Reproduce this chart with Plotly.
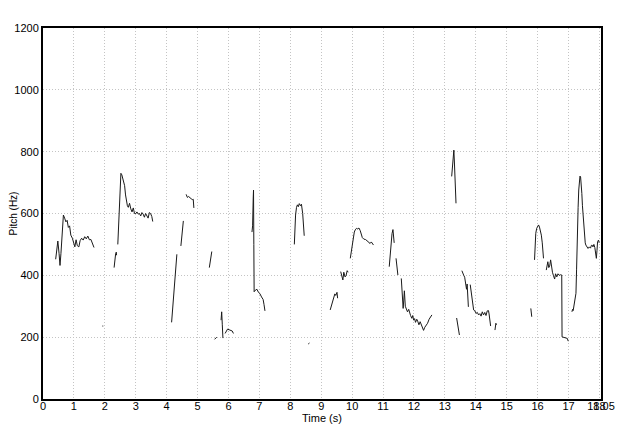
import plotly.graph_objects as go

# Pitch contour segments (time in s, pitch in Hz); None marks unvoiced gaps
time_s = [
    0.41, 0.45, 0.48, 0.52, 0.55, 0.58, 0.62, 0.66, 0.70, 0.74, 0.78, 0.82, 0.86, 0.90, 0.95, 0.99,
    1.03, 1.07, 1.11, 1.16, 1.20, 1.25, 1.30, 1.35, 1.40, 1.45, 1.50, 1.55, 1.60, 1.65, None,
    1.92, 1.95, None,
    2.30, 2.32, 2.35, 2.37, 2.38, None,
    2.42, 2.45, 2.48, 2.50, 2.52, 2.55, 2.58, 2.61, 2.64, 2.67, 2.70, 2.73, 2.76, 2.80, 2.84, 2.88,
    2.92, 2.96, 3.00, 3.04, 3.08, 3.12, 3.16, 3.20, 3.24, 3.28, 3.32, 3.36, 3.40, 3.44, 3.48, 3.52, 3.55, None,
    4.16, 4.20, 4.23, 4.27, 4.30, 4.33, None,
    4.46, 4.50, 4.54, None,
    4.63, 4.67, 4.71, 4.75, 4.79, 4.83, 4.86, 4.88, None,
    5.38, 5.41, 5.44, 5.46, None,
    5.55, 5.58, 5.62, None,
    5.76, 5.78, 5.80, 5.82, None,
    5.89, 5.93, 5.97, 6.02, 6.07, 6.12, 6.16, None,
    6.76, 6.78, 6.80, 6.81, 6.82, 6.83, 6.87, 6.92, 6.97, 7.02, 7.07, 7.12, 7.15, 7.18, None,
    8.13, 8.15, 8.17, 8.20, 8.23, 8.26, 8.29, 8.33, 8.36, 8.40, 8.43, 8.45, None,
    8.58, 8.62, None,
    9.29, 9.33, 9.36, 9.40, 9.44, 9.47, 9.51, 9.53, None,
    9.63, 9.67, 9.70, 9.73, 9.77, 9.80, 9.84, 9.87, None,
    9.94, 9.96, 9.98, 10.00, 10.02, 10.04, 10.07, 10.10, 10.14, 10.18, 10.22, 10.26, 10.29, 10.33,
    10.38, 10.43, 10.48, 10.53, 10.58, 10.62, 10.66, 10.69, None,
    11.20, 11.23, 11.26, 11.29, 11.32, 11.34, 11.36, None,
    11.42, 11.45, 11.48, None,
    11.59, 11.61, 11.63, 11.65, 11.67, 11.69, 11.72, 11.75, 11.79, 11.83, 11.86, 11.89, 11.93, 11.96,
    11.99, 12.02, 12.05, 12.09, 12.12, 12.16, 12.20, 12.24, 12.28, 12.31, 12.35, 12.39, 12.44, 12.49,
    12.54, 12.58, None,
    13.22, 13.24, 13.27, 13.29, 13.31, 13.33, 13.35, 13.36, None,
    13.38, 13.42, 13.47, None,
    13.55, 13.58, 13.61, 13.64, 13.67, 13.70, 13.72, 13.74, 13.76, None,
    13.82, 13.85, 13.88, 13.90, 13.93, 13.97, 14.01, 14.05, 14.09, 14.13, 14.17, 14.21, 14.25, 14.29,
    14.33, 14.37, 14.41, 14.43, 14.46, 14.48, None,
    14.62, 14.65, 14.67, None,
    15.78, 15.80, 15.81, None,
    15.90, 15.92, 15.94, 15.97, 16.00, 16.03, 16.06, 16.09, 16.12, 16.15, 16.17, 16.19, None,
    16.28, 16.31, 16.33, 16.36, 16.39, 16.42, 16.45, 16.48, 16.51, 16.55, 16.58, 16.62, 16.66, 16.70,
    16.74, 16.78, 16.79, 16.83, 16.87, 16.92, 16.96, 16.99, None,
    17.11, 17.13, 17.15, 17.18, 17.21, 17.24, 17.26, 17.27, 17.29, 17.31, 17.33, 17.35, 17.37, 17.39,
    17.41, 17.43, 17.45, 17.47, 17.49, 17.51, 17.54, 17.56, 17.60, 17.63, 17.67, 17.71, 17.74, 17.76,
    17.79, 17.82, 17.85, 17.87, 17.90, 17.92, 17.94, 17.97, 17.99,
]

pitch_hz = [
    452, 500, 511, 470, 432, 470, 540, 595, 585, 573, 578, 555, 560, 530, 520, 505,
    492, 515, 496, 492, 512, 520, 514, 525, 518, 527, 515, 516, 505, 490, None,
    236, 236, None,
    425, 455, 470, 475, 465, None,
    500, 560, 650, 700, 730, 725, 710, 705, 690, 660, 640, 625, 620, 633, 615, 605,
    618, 600, 600, 605, 598, 600, 592, 603, 598, 588, 600, 590, 585, 603, 600, 590, 574, None,
    248, 300, 350, 400, 440, 468, None,
    495, 535, 576, None,
    662, 652, 655, 650, 648, 645, 646, 618, None,
    425, 445, 460, 477, None,
    193, 197, 200, None,
    255, 282, 240, 197, None,
    212, 222, 226, 224, 222, 220, 212, None,
    540, 560, 650, 676, 500, 347, 352, 355, 345, 340, 330, 322, 305, 285, None,
    500, 560, 595, 620, 628, 622, 632, 625, 630, 600, 560, 528, None,
    178, 181, None,
    288, 300, 312, 325, 340, 335, 345, 326, None,
    412, 395, 385, 410, 395, 398, 415, 410, None,
    455, 470, 478, 490, 510, 525, 540, 547, 552, 550, 553, 545, 530, 522,
    517, 516, 512, 508, 503, 508, 504, 498, None,
    428, 470, 503, 535, 548, 525, 505, None,
    455, 430, 401, None,
    390, 340, 300, 293, 320, 350, 300, 290, 282, 290, 277, 270, 261, 270,
    255, 260, 248, 258, 252, 240, 250, 238, 228, 222, 232, 238, 245, 258,
    265, 272, None,
    720, 745, 790, 805, 760, 700, 660, 633, None,
    262, 240, 207, None,
    415, 405, 400, 394, 380, 355, 372, 340, 298, None,
    370, 345, 330, 310, 288, 285, 277, 280, 272, 276, 268, 282, 272, 280,
    270, 285, 286, 275, 240, 236, None,
    223, 245, 240, None,
    293, 280, 266, None,
    450, 500, 536, 552, 560, 563, 556, 545, 530, 505, 480, 455, None,
    417, 430, 444, 425, 430, 450, 425, 410, 400, 388, 405, 395, 405, 400,
    402, 401, 201, 200, 200, 198, 196, 187, None,
    282, 290, 286, 309, 320, 342, 420, 493, 568, 620, 676, 705, 721, 718,
    700, 665, 625, 590, 555, 525, 505, 498, 490, 487, 492, 488, 497, 498,
    492, 500, 490, 476, 455, 480, 509, 514, 505,
]

x_tick_vals = [0, 1, 2, 3, 4, 5, 6, 7, 8, 9, 10, 11, 12, 13, 14, 15, 16, 17, 18, 18.05]
x_tick_text = ["0", "1", "2", "3", "4", "5", "6", "7", "8", "9", "10", "11", "12", "13",
               "14", "15", "16", "17", "18", "18.05"]
y_tick_vals = [0, 200, 400, 600, 800, 1000, 1200]

font_family = "Liberation Sans, Arial, sans-serif"

fig = go.Figure()
fig.add_trace(go.Scatter(
    x=time_s, y=pitch_hz, mode="lines",
    line=dict(color="#1a1a1a", width=1),
    connectgaps=False, showlegend=False, hoverinfo="skip",
))

fig.update_layout(
    width=635, height=420,
    margin=dict(l=35, r=42, t=20, b=29),
    paper_bgcolor="white", plot_bgcolor="white",
    font=dict(family=font_family, size=11, color="black"),
    showlegend=False,
)
fig.update_xaxes(
    range=[0, 18.05], tickmode="array", tickvals=x_tick_vals, ticktext=x_tick_text,
    tickangle=0,
    showgrid=True, gridcolor="#c4c4c4", griddash="1px,2px", gridwidth=1,
    showline=True, linecolor="black", linewidth=2, mirror=True,
    ticks="", ticklen=0, zeroline=False, automargin=False,
    tickfont=dict(size=11), ticklabelstandoff=-4,
    title=dict(text="Time (s)", font=dict(size=11), standoff=0),
)
fig.update_yaxes(
    range=[0, 1200], tickmode="array", tickvals=y_tick_vals,
    showgrid=True, gridcolor="#c4c4c4", griddash="1px,2px", gridwidth=1,
    showline=True, linecolor="black", linewidth=2, mirror=True,
    ticks="", ticklen=0, zeroline=False, automargin=False,
    tickfont=dict(size=11),
    title=dict(text="Pitch (Hz)", font=dict(size=10), standoff=0),
)

fig.write_html("out.html")
